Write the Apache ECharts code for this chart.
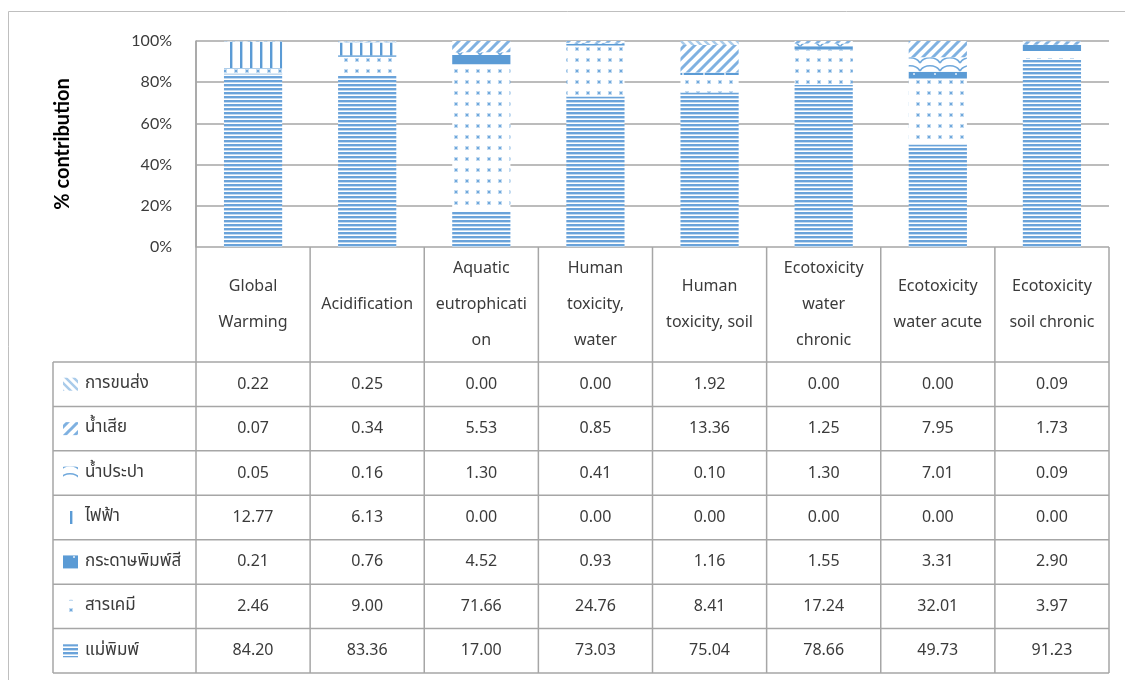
<!DOCTYPE html>
<html>
<head>
<meta charset="utf-8">
<script src="https://cdn.jsdelivr.net/npm/echarts@6/dist/echarts.min.js"></script>
<style>
  html, body { margin: 0; padding: 0; background: #fff; }
  #main { width: 1125px; height: 680px; }
</style>
</head>
<body>
<div id="main"></div>
<script>
// categories (impact types) and the header text as it wraps in the table
var categories = ['Global Warming', 'Acidification', 'Aquatic eutrophication', 'Human toxicity, water',
    'Human toxicity, soil', 'Ecotoxicity water chronic', 'Ecotoxicity water acute', 'Ecotoxicity soil chronic'];
var headerLabels = ['Global\nWarming', 'Acidification', 'Aquatic\neutrophicati\non', 'Human\ntoxicity,\nwater',
    'Human\ntoxicity, soil', 'Ecotoxicity\nwater\nchronic', 'Ecotoxicity\nwater acute', 'Ecotoxicity\nsoil chronic'];

// series, bottom of stack first
var mold      = [84.20, 83.36, 17.00, 73.03, 75.04, 78.66, 49.73, 91.23];
var chemical  = [2.46, 9.00, 71.66, 24.76, 8.41, 17.24, 32.01, 3.97];
var paper     = [0.21, 0.76, 4.52, 0.93, 1.16, 1.55, 3.31, 2.90];
var power     = [12.77, 6.13, 0.00, 0.00, 0.00, 0.00, 0.00, 0.00];
var tapWater  = [0.05, 0.16, 1.30, 0.41, 0.10, 1.30, 7.01, 0.09];
var wasteWater = [0.07, 0.34, 5.53, 0.85, 13.36, 1.25, 7.95, 1.73];
var transport = [0.22, 0.25, 0.00, 0.00, 1.92, 0.00, 0.00, 0.09];

var seriesNames = ['แม่พิมพ์', 'สารเคมี', 'กระดาษพิมพ์สี', 'ไฟฟ้า', 'น้ำประปา', 'น้ำเสีย', 'การขนส่ง'];
var seriesData = [mold, chemical, paper, power, tapWater, wasteWater, transport];

var yTicks = [0, 20, 40, 60, 80, 100];

var FONT = "'Noto Sans', 'Noto Sans Thai', 'DejaVu Sans', sans-serif";
var TEXT = '#3b3b3b';
var LINE = '#a6a6a6';

function makeTile(w, h, draw) {
    var c = document.createElement('canvas');
    c.width = w;
    c.height = h;
    var g = c.getContext('2d');
    g.fillStyle = '#fff';
    g.fillRect(0, 0, w, h);
    draw(g);
    return c;
}

// excel-like fill patterns
var tiles = [
    makeTile(4, 4, function (g) { // horizontal
        g.fillStyle = '#6aa3da'; g.fillRect(0, 0, 4, 2);
        g.fillStyle = '#c2daf0'; g.fillRect(0, 2, 4, 1);
    }),
    makeTile(11, 11, function (g) { // dots
        g.fillStyle = '#c3dbf1'; g.fillRect(3, 3, 4, 4);
        g.fillStyle = '#6fa8dc'; g.fillRect(4, 4, 2, 2);
    }),
    makeTile(21, 21, function (g) { // solid with light dots
        g.fillStyle = '#5b9bd5'; g.fillRect(0, 0, 21, 21);
        g.fillStyle = '#c5dcf1'; g.fillRect(10, 10, 2, 2);
    }),
    makeTile(10, 4, function (g) { // vertical
        g.fillStyle = '#5b9bd5'; g.fillRect(0, 0, 2, 4);
        g.fillStyle = '#bdd7ee'; g.fillRect(2, 0, 1, 4);
    }),
    makeTile(20, 8, function (g) { // waves
        g.strokeStyle = '#6fa8dc'; g.lineWidth = 1.6;
        g.beginPath(); g.moveTo(0, 7); g.bezierCurveTo(4, 0, 16, 0, 20, 7); g.stroke();
    }),
    makeTile(10, 10, function (g) { // wide upward diagonal
        g.strokeStyle = '#7fb1e1'; g.lineWidth = 3;
        g.beginPath();
        g.moveTo(-5, 5); g.lineTo(5, -5);
        g.moveTo(0, 10); g.lineTo(10, 0);
        g.moveTo(5, 15); g.lineTo(15, 5);
        g.stroke();
    }),
    makeTile(8, 8, function (g) { // downward diagonal
        g.strokeStyle = '#a9cbea'; g.lineWidth = 2.5;
        g.beginPath();
        g.moveTo(-4, 4); g.lineTo(4, 12);
        g.moveTo(0, 0); g.lineTo(8, 8);
        g.moveTo(4, -4); g.lineTo(12, 4);
        g.stroke();
    })
];

function pattern(i) {
    return { image: tiles[i], repeat: 'repeat' };
}

var gridLeft = 196, gridRight = 1109, gridTop = 41, gridBottom = 247;
var headerBottom = 362, tableBottom = 673, tableLeft = 53;
var colW = (gridRight - gridLeft) / categories.length;
var rowH = (tableBottom - headerBottom) / seriesNames.length;

// data table under the plot
var graphics = [];
graphics.push({
    type: 'rect', silent: true, z: -1,
    shape: { x: 8.5, y: 11.5, width: 1140, height: 700 },
    style: { fill: 'none', stroke: '#bfbfbf', lineWidth: 1 }
});
function hLine(x1, x2, y) {
    graphics.push({ type: 'line', silent: true, shape: { x1: x1, y1: y, x2: x2, y2: y }, style: { stroke: LINE, lineWidth: 1.5 } });
}
function vLine(x, y1, y2) {
    graphics.push({ type: 'line', silent: true, shape: { x1: x, y1: y1, x2: x, y2: y2 }, style: { stroke: LINE, lineWidth: 1.5 } });
}
for (var k = 0; k <= categories.length; k++) {
    vLine(gridLeft + k * colW, k === 0 ? gridTop : gridBottom, tableBottom);
}
vLine(tableLeft, headerBottom, tableBottom);
for (var r = 0; r <= seriesNames.length; r++) {
    hLine(tableLeft, gridRight, headerBottom + r * rowH);
}
headerLabels.forEach(function (t, i) {
    graphics.push({
        type: 'text', silent: true,
        style: {
            text: t, x: gridLeft + (i + 0.5) * colW, y: (gridBottom + headerBottom) / 2,
            align: 'center', verticalAlign: 'middle', lineHeight: 36,
            fontSize: 16, fontFamily: FONT, fill: TEXT
        }
    });
});
// rows are listed top-down, i.e. reverse stack order
for (var s = seriesNames.length - 1, row = 0; s >= 0; s--, row++) {
    var cy = headerBottom + (row + 0.5) * rowH;
    graphics.push({
        type: 'rect', silent: true,
        shape: { x: 63, y: cy - 6.5, width: 15, height: 13 },
        style: { fill: pattern(s) }
    });
    graphics.push({
        type: 'text', silent: true,
        style: {
            text: seriesNames[s], x: 85, y: cy - 1, align: 'left', verticalAlign: 'middle',
            fontSize: 17, fontFamily: FONT, fill: TEXT
        }
    });
    seriesData[s].forEach(function (v, i) {
        graphics.push({
            type: 'text', silent: true,
            style: {
                text: v.toFixed(2), x: gridLeft + (i + 0.5) * colW, y: cy,
                align: 'center', verticalAlign: 'middle',
                fontSize: 16, fontFamily: FONT, fill: TEXT
            }
        });
    });
}

var chart = echarts.init(document.getElementById('main'));
chart.setOption({
    animation: false,
    grid: { left: gridLeft, right: 1125 - gridRight, top: gridTop, bottom: 680 - gridBottom, containLabel: false },
    xAxis: {
        type: 'category',
        data: categories,
        axisLabel: { show: false },
        axisTick: { show: false },
        axisLine: { show: false }
    },
    yAxis: {
        type: 'value',
        min: yTicks[0],
        max: yTicks[yTicks.length - 1],
        interval: yTicks[1] - yTicks[0],
        name: '% contribution',
        nameLocation: 'middle',
        nameGap: 123,
        nameTextStyle: { fontSize: 20, fontWeight: 'bold', fontFamily: 'Lato, sans-serif', color: '#000' },
        axisLine: { show: true, lineStyle: { color: LINE, width: 1.5 } },
        axisTick: { show: false },
        axisLabel: { formatter: '{value}%', fontSize: 16, fontFamily: 'Lato, sans-serif', color: '#3b3b3b', margin: 24 },
        splitLine: { lineStyle: { color: LINE, width: 1.5 } }
    },
    series: seriesNames.map(function (name, i) {
        return {
            name: name,
            type: 'bar',
            stack: 'total',
            barWidth: '51%',
            data: seriesData[i],
            itemStyle: { color: pattern(i) }
        };
    }),
    graphic: graphics
});
</script>
</body>
</html>
